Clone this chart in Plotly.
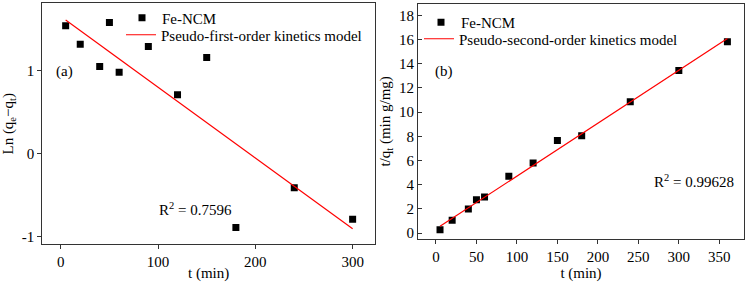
import plotly.graph_objects as go

# Panel (a): pseudo-first-order
t_a = [5, 20, 40, 50, 60, 90, 120, 150, 180, 240, 300]
ln_a = [1.54, 1.32, 1.05, 1.58, 0.98, 1.29, 0.71, 1.16, -0.89, -0.41, -0.79]
fit_a_t = [5, 300]
fit_a_y = [1.611, -0.904]

# Panel (b): pseudo-second-order
t_b = [5, 20, 40, 50, 60, 90, 120, 150, 180, 240, 300, 360]
tq_b = [0.28, 1.05, 1.99, 2.76, 2.98, 4.69, 5.79, 7.66, 8.05, 10.86, 13.45, 15.83]
fit_b_t = [5, 360]
fit_b_y = [0.55, 16.1]

ticks_a_x = [0, 100, 200, 300]
ticks_a_y = [-1, 0, 1]
ticks_a_ytext = ["-1", "0", "1"]
ticks_b_x = [0, 50, 100, 150, 200, 250, 300, 350]
ticks_b_y = [0, 2, 4, 6, 8, 10, 12, 14, 16, 18]

FONT = "Liberation Serif, Times New Roman, serif"
FS = 15
W, H = 748, 282

fig = go.Figure()
fig.add_trace(go.Scatter(x=t_a, y=ln_a, mode="markers", name="Fe-NCM",
                         marker=dict(symbol="square", size=7, color="black"),
                         xaxis="x", yaxis="y", legend="legend", showlegend=True))
fig.add_trace(go.Scatter(x=fit_a_t, y=fit_a_y, mode="lines",
                         name="Pseudo-first-order kinetics model",
                         line=dict(color="red", width=1.2),
                         xaxis="x", yaxis="y", legend="legend2", showlegend=True))
fig.add_trace(go.Scatter(x=t_b, y=tq_b, mode="markers", name="Fe-NCM",
                         marker=dict(symbol="square", size=7, color="black"),
                         xaxis="x2", yaxis="y2", legend="legend3", showlegend=True))
fig.add_trace(go.Scatter(x=fit_b_t, y=fit_b_y, mode="lines",
                         name="Pseudo-second-order kinetics model",
                         line=dict(color="red", width=1.2),
                         xaxis="x2", yaxis="y2", legend="legend4", showlegend=True))

axis_common = dict(showline=True, linecolor="#333", linewidth=1, mirror=True,
                   showgrid=False, zeroline=False, ticks="outside", ticklen=4,
                   tickcolor="#333", automargin=False,
                   tickfont=dict(family=FONT, size=FS, color="black"))


def leg(x_px, top_px):
    return dict(x=x_px / W, y=(H - top_px) / H, xanchor="left", yanchor="top",
                bgcolor="rgba(0,0,0,0)", borderwidth=0, visible=True,
                font=dict(family=FONT, size=FS), itemwidth=30)


fig.update_layout(
    width=W, height=H,
    showlegend=True,
    margin=dict(l=0, r=0, t=0, b=0),
    paper_bgcolor="white", plot_bgcolor="white",
    font=dict(family=FONT, size=FS, color="black"),
    xaxis=dict(domain=[42.3 / W, 375 / W], range=[-19, 323],
               tickvals=ticks_a_x, anchor="y",
               title=dict(text="t (min)", standoff=1, font=dict(size=FS)),
               **axis_common),
    yaxis=dict(domain=[(H - 244.3) / H, (H - 3.3) / H], range=[-1.092, 1.812],
               tickvals=ticks_a_y, ticktext=ticks_a_ytext, anchor="x",
               title=dict(text="Ln (q<sub>e</sub>−q<sub>t</sub>)", standoff=6, font=dict(size=FS)),
               **axis_common),
    xaxis2=dict(domain=[418 / W, 744 / W], range=[-22.2, 380.5],
                tickvals=ticks_b_x, anchor="y2",
                title=dict(text="t (min)", standoff=1, font=dict(size=FS)),
                **axis_common),
    yaxis2=dict(domain=[(H - 239.3) / H, (H - 3.5) / H], range=[-0.52, 18.99],
                tickvals=ticks_b_y, anchor="x2",
                title=dict(text="t/q<sub>t</sub> (min g/mg)", standoff=4, font=dict(size=FS)),
                **{**axis_common, "ticks": "inside"}),
    legend=leg(122, 1.5),
    legend2=leg(121, 18.5),
    legend3=leg(421, 6),
    legend4=leg(419, 22.5),
    annotations=[
        dict(text="(a)", x=54 / W, y=(H - 71.7) / H, xref="paper", yref="paper",
             xanchor="left", yanchor="middle", showarrow=False, font=dict(size=FS)),
        dict(text="(b)", x=433 / W, y=(H - 71.7) / H, xref="paper", yref="paper",
             xanchor="left", yanchor="middle", showarrow=False, font=dict(size=FS)),
        dict(text="R<sup>2</sup> = 0.7596", x=157 / W, y=(H - 209.3) / H,
             xref="paper", yref="paper", xanchor="left", yanchor="middle",
             showarrow=False, font=dict(size=FS)),
        dict(text="R<sup>2</sup> = 0.99628", x=652 / W, y=(H - 181) / H,
             xref="paper", yref="paper", xanchor="left", yanchor="middle",
             showarrow=False, font=dict(size=FS)),
    ],
)

fig.write_html("out.html", config={"displayModeBar": False},
               post_script="document.body.style.margin='0';")
